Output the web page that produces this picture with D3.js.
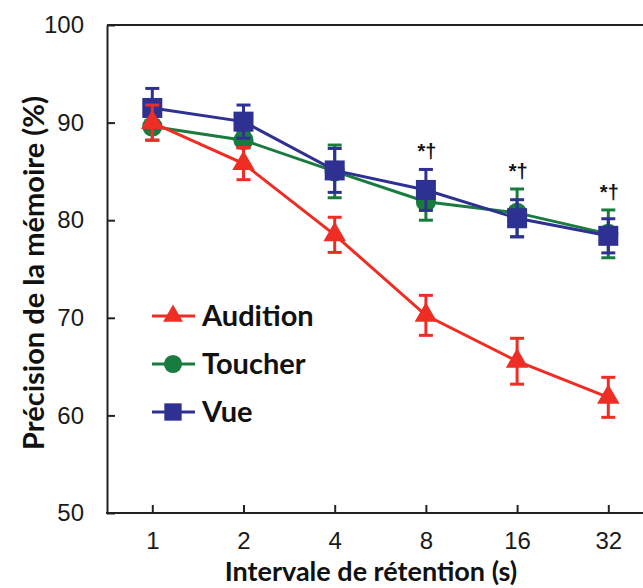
<!DOCTYPE html>
<html>
<head>
<meta charset="utf-8">
<script src="https://cdn.jsdelivr.net/npm/d3@7"></script>
<style>
  body { margin: 0; background: #fff; }
  svg { display: block; }
</style>
</head>
<body>
<div id="chart"></div>
<script>
// data
var intervals = [1, 2, 4, 8, 16, 32];
var tickLabels = ["1", "2", "4", "8", "16", "32"];
var yTicks = [50, 60, 70, 80, 90, 100];

var auditionMean = [90.0, 85.8, 78.5, 70.25, 65.55, 61.85];
var auditionErr = [1.8, 1.65, 1.8, 2.05, 2.35, 2.05];
var toucherMean = [89.6, 88.2, 85.0, 81.9, 80.75, 78.6];
var toucherErr = [1.4, 0.8, 2.7, 1.9, 2.45, 2.45];
var vueMean = [91.5, 90.1, 85.1, 83.1, 80.2, 78.4];
var vueErr = [2.0, 1.7, 2.25, 2.1, 1.9, 1.75];
var sigMarks = ["", "", "", "*\u2020", "*\u2020", "*\u2020"];

//svg size
var svgWidth = 643;
var svgHeight = 588;

var svg = d3.select("#chart")
    .append("svg")
    .attr("width", svgWidth)
    .attr("height", svgHeight);

//scales
var xScale = d3.scaleLog().base(2)
    .domain([1, 32])
    .range([152.3, 608.3]);

var yScale = d3.scaleLinear()
    .domain([50, 100])
    .range([513, 25]);

var axisLeftX = 107;
var colors = {Audition: "#EE2D24", Toucher: "#1A7B3F", Vue: "#2E3192"};

//top frame line
svg.append("line")
    .attr("x1", axisLeftX).attr("x2", svgWidth + 5)
    .attr("y1", yScale(100)).attr("y2", yScale(100))
    .attr("stroke", "#222").attr("stroke-width", 2);

//y axis
var yAxis = d3.axisLeft(yScale)
    .tickValues(yTicks)
    .tickSizeInner(-8)
    .tickSizeOuter(0)
    .tickPadding(23);

var yAxisG = svg.append("g")
    .attr("transform", `translate(${axisLeftX}, 0)`)
    .call(yAxis);

yAxisG.select(".domain").attr("stroke", "#222").attr("stroke-width", 2);
yAxisG.selectAll(".tick line").attr("stroke", "#222").attr("stroke-width", 2);
yAxisG.selectAll(".tick text")
    .attr("font-family", "Liberation Sans, Arial, sans-serif")
    .attr("font-size", 24)
    .attr("fill", "#1a1a1a");

//x axis
var xAxis = d3.axisBottom(xScale)
    .tickValues(intervals)
    .tickFormat(function(d, i){ return tickLabels[i]; })
    .tickSizeInner(-8)
    .tickSizeOuter(0)
    .tickPadding(19);

var xAxisG = svg.append("g")
    .attr("transform", `translate(0, ${yScale(50)})`)
    .call(xAxis);

xAxisG.select(".domain").remove();
xAxisG.append("line")
    .attr("x1", axisLeftX - 1).attr("x2", svgWidth + 5)
    .attr("y1", 0).attr("y2", 0)
    .attr("stroke", "#222").attr("stroke-width", 2);
xAxisG.selectAll(".tick line").attr("stroke", "#222").attr("stroke-width", 2);
xAxisG.selectAll(".tick text")
    .attr("font-family", "Liberation Sans, Arial, sans-serif")
    .attr("font-size", 24)
    .attr("fill", "#1a1a1a");

//axis titles
svg.append("text")
    .attr("x", 371)
    .attr("y", 581)
    .attr("text-anchor", "middle")
    .attr("font-family", "Lato, sans-serif")
    .attr("font-weight", "bold")
    .attr("font-size", 27)
    .attr("fill", "#111")
    .text("Intervale de rétention (s)");

svg.append("text")
    .attr("transform", "translate(44, 273) rotate(-90)")
    .attr("text-anchor", "middle")
    .attr("font-family", "Lato, sans-serif")
    .attr("font-weight", "bold")
    .attr("font-size", 29)
    .attr("fill", "#111")
    .text("Précision de la mémoire (%)");

//build series
function makeSeries(name, means, errs, symbol, size){
    return {
        name: name,
        symbol: symbol,
        size: size,
        values: intervals.map(function(x, i){
            return {x: x, y: means[i], e: errs[i]};
        })
    };
}

var series = [
    makeSeries("Toucher", toucherMean, toucherErr, d3.symbolCircle, 320),
    makeSeries("Vue", vueMean, vueErr, d3.symbolSquare, 400),
    makeSeries("Audition", auditionMean, auditionErr, d3.symbolTriangle, 220)
];

var line = d3.line()
    .x(d => xScale(d.x))
    .y(d => yScale(d.y));

series.forEach(function(s){
    var g = svg.append("g").attr("class", "series");
    var c = colors[s.name];

    g.append("path")
        .datum(s.values)
        .attr("d", line)
        .attr("fill", "none")
        .attr("stroke", c)
        .attr("stroke-width", 3);

    //error bars
    var eb = g.selectAll(".err")
        .data(s.values)
        .enter()
        .append("g")
        .attr("stroke", c)
        .attr("stroke-width", 3);

    eb.append("line")
        .attr("x1", d => xScale(d.x)).attr("x2", d => xScale(d.x))
        .attr("y1", d => yScale(d.y + d.e)).attr("y2", d => yScale(d.y - d.e));
    eb.append("line")
        .attr("x1", d => xScale(d.x) - 7).attr("x2", d => xScale(d.x) + 7)
        .attr("y1", d => yScale(d.y + d.e)).attr("y2", d => yScale(d.y + d.e));
    eb.append("line")
        .attr("x1", d => xScale(d.x) - 7).attr("x2", d => xScale(d.x) + 7)
        .attr("y1", d => yScale(d.y - d.e)).attr("y2", d => yScale(d.y - d.e));

    //markers
    g.selectAll(".mark")
        .data(s.values)
        .enter()
        .append("path")
        .attr("d", d3.symbol().type(s.symbol).size(s.size))
        .attr("transform", d => `translate(${xScale(d.x)}, ${yScale(d.y)})`)
        .attr("fill", c);
});

//significance marks above the touch/vision points
svg.selectAll(".sig")
    .data(intervals)
    .enter()
    .append("text")
    .attr("x", d => xScale(d) + 1)
    .attr("y", function(d, i){
        var top = Math.max(toucherMean[i] + toucherErr[i], vueMean[i] + vueErr[i]);
        return yScale(top) - 11;
    })
    .attr("text-anchor", "middle")
    .attr("font-family", "Liberation Sans, Arial, sans-serif")
    .attr("font-weight", "bold")
    .attr("font-size", 20)
    .attr("fill", "#111")
    .text((d, i) => sigMarks[i]);

//legend
var legendOrder = [
    {name: "Audition", symbol: d3.symbolTriangle, size: 170},
    {name: "Toucher", symbol: d3.symbolCircle, size: 260},
    {name: "Vue", symbol: d3.symbolSquare, size: 300}
];

var legend = svg.append("g");
legendOrder.forEach(function(item, i){
    var y = 316 + i * 48;
    var c = colors[item.name];
    legend.append("line")
        .attr("x1", 152).attr("x2", 195)
        .attr("y1", y).attr("y2", y)
        .attr("stroke", c).attr("stroke-width", 3);
    legend.append("path")
        .attr("d", d3.symbol().type(item.symbol).size(item.size))
        .attr("transform", `translate(173, ${y})`)
        .attr("fill", c);
    legend.append("text")
        .attr("x", 202)
        .attr("y", y)
        .attr("dy", "0.35em")
        .attr("font-family", "Lato, sans-serif")
        .attr("font-weight", "bold")
        .attr("font-size", 29)
        .attr("fill", "#111")
        .text(item.name);
});
</script>
</body>
</html>
